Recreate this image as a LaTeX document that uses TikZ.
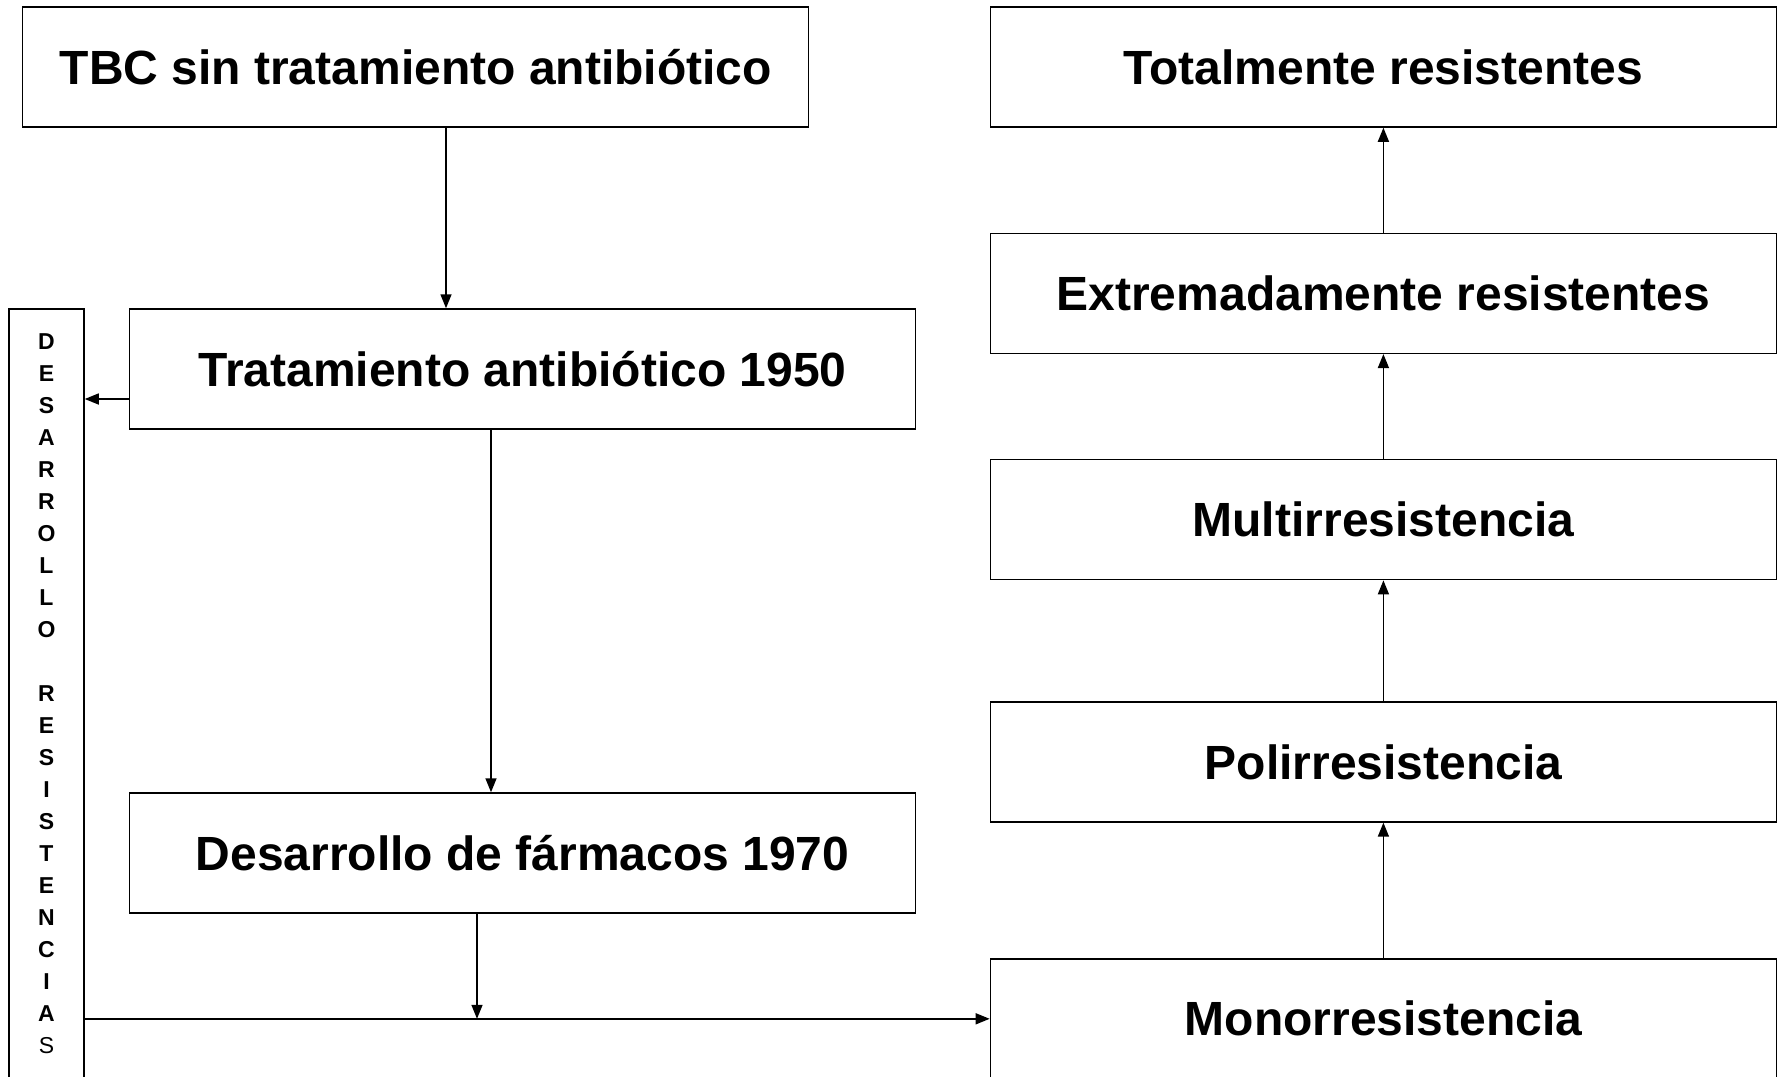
\documentclass[tikz,border=0pt]{standalone}
\usepackage{fontspec}
\setmainfont{Liberation Sans}
\usetikzlibrary{positioning, arrows.meta}

\begin{document}
\begin{tikzpicture}[x=0.5pt, y=-0.5pt, line width=0.75pt,
    box/.style={rectangle, draw, minimum width=393pt, minimum height=60pt,
      inner sep=0pt, font=\fontsize{24}{28}\selectfont\bfseries},
    >={Triangle[length=7pt,width=5.5pt]}]
  \useasboundingbox (0,0) rectangle (1781,1076);
  \clip (0,0) rectangle (1781,1076);

  % left side
  \node[box] (tbc) at (415.7,67) {TBC sin tratamiento antibiótico};
  \node[box] (trat) at (522.5,369) {Tratamiento antibiótico 1950};
  \node[box] (desa) at (522.5,853) {Desarrollo de fármacos 1970};
  \node[draw, minimum width=37.5pt, minimum height=384.5pt, inner sep=0pt,
    align=center, font=\fontsize{11.5}{16}\selectfont\bfseries] (resbox) at (46.5,693.5)
    {D\\E\\S\\A\\R\\R\\O\\L\\L\\O\\\mbox{}\\R\\E\\S\\I\\S\\T\\E\\N\\C\\I\\A\\{\mdseries S}};

  % right side
  \node[box] (total) at (1383.4,67) {Totalmente resistentes};
  \node[box, below=52.4pt of total] (extrem) {Extremadamente resistentes};
  \node[box, below=52.4pt of extrem] (multi) {Multirresistencia};
  \node[box, below=60.4pt of multi] (poli) {Polirresistencia};
  \node[box, below=67.7pt of poli] (mono) {Monorresistencia};

  \draw[->] ([xshift=15.15pt]tbc.south) -- ([xshift=15.15pt]tbc.south |- trat.north);
  \draw[->] ([xshift=-15.75pt]trat.south) -- ([xshift=-15.75pt]trat.south |- desa.north);
  \draw[->] ([yshift=-15pt]trat.west) -- ([yshift=-15pt]trat.west -| resbox.east);
  \draw[->] ([xshift=-22.75pt]desa.south) -- ([xshift=-22.75pt]desa.south |- mono.west);
  \draw[->] (resbox.east |- mono.west) -- (mono.west);

  \draw[->] (mono) -- (poli);
  \draw[->] (poli) -- (multi);
  \draw[->] (multi) -- (extrem);
  \draw[->] (extrem) -- (total);
\end{tikzpicture}
\end{document}
